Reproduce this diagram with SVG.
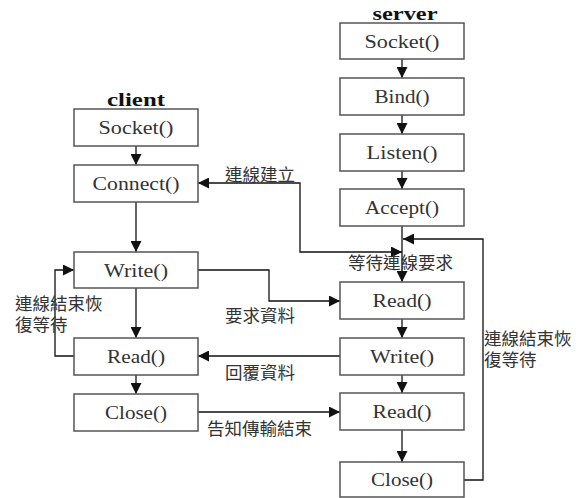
<svg xmlns="http://www.w3.org/2000/svg" width="578" height="498" viewBox="0 0 578 498">
<style>
.box{fill:#fff;stroke:#555;stroke-width:1.5}
.fn{font-family:"Liberation Serif",serif;font-size:19px;fill:#333;text-anchor:middle}
.hd{font-family:"Liberation Serif",serif;font-size:19px;font-weight:bold;fill:#111;text-anchor:middle}
.cj{font-family:"Liberation Sans","Noto Sans CJK TC",sans-serif;font-size:17.5px;fill:#333}
.ln{fill:none;stroke:#111;stroke-width:1.3}
</style>
<defs>
<marker id="ah" viewBox="0 0 10 10" refX="10" refY="5" markerWidth="11" markerHeight="11" markerUnits="userSpaceOnUse" orient="auto-start-reverse">
<path d="M0 0 L10 5 L0 10 Z" fill="#111"/>
</marker>
</defs>
<g id="connectors">
<path class="ln" d="M136 146 V165" marker-end="url(#ah)"/>
<path class="ln" d="M136 202 V252" marker-end="url(#ah)"/>
<path class="ln" d="M136 288 V338" marker-end="url(#ah)"/>
<path class="ln" d="M136 375 V394" marker-end="url(#ah)"/>
<path class="ln" d="M402 59 V78" marker-end="url(#ah)"/>
<path class="ln" d="M402 115 V134" marker-end="url(#ah)"/>
<path class="ln" d="M402 171 V189" marker-end="url(#ah)"/>
<path class="ln" d="M402 226 V282" marker-end="url(#ah)"/>
<path class="ln" d="M402 375 V393" marker-end="url(#ah)"/>
<path class="ln" d="M402 319 V338" marker-end="url(#ah)"/>
<path class="ln" d="M402 430 V462" marker-end="url(#ah)"/>
<path class="ln" d="M402 252 H300 V183 H198" marker-start="url(#ah)" marker-end="url(#ah)"/>
<path class="ln" d="M464 480 H483 V239 H403" marker-end="url(#ah)"/>
<path class="ln" d="M198 270 H269 V301 H340" marker-end="url(#ah)"/>
<path class="ln" d="M340 356 H198" marker-end="url(#ah)"/>
<path class="ln" d="M198 412 H340" marker-end="url(#ah)"/>
<path class="ln" d="M74 356 H55 V270 H74" marker-end="url(#ah)"/>
</g>
<g id="client-label"><text class="hd" x="136" y="106" textLength="58" lengthAdjust="spacingAndGlyphs">client</text></g>
<g id="server-label"><text class="hd" x="405" y="20" textLength="65" lengthAdjust="spacingAndGlyphs">server</text></g>
<g id="c-socket"><rect class="box" x="74" y="109" width="124" height="37"/><text class="fn" x="136" y="134" textLength="75" lengthAdjust="spacingAndGlyphs">Socket()</text></g>
<g id="c-connect"><rect class="box" x="74" y="165" width="124" height="37"/><text class="fn" x="136" y="190" textLength="87" lengthAdjust="spacingAndGlyphs">Connect()</text></g>
<g id="c-write"><rect class="box" x="74" y="252" width="124" height="36"/><text class="fn" x="136" y="277" textLength="64" lengthAdjust="spacingAndGlyphs">Write()</text></g>
<g id="c-read"><rect class="box" x="74" y="338" width="124" height="37"/><text class="fn" x="136" y="363" textLength="58" lengthAdjust="spacingAndGlyphs">Read()</text></g>
<g id="c-close"><rect class="box" x="74" y="394" width="124" height="37"/><text class="fn" x="136" y="419" textLength="62" lengthAdjust="spacingAndGlyphs">Close()</text></g>
<g id="s-socket"><rect class="box" x="340" y="23" width="124" height="36"/><text class="fn" x="402" y="48" textLength="75" lengthAdjust="spacingAndGlyphs">Socket()</text></g>
<g id="s-bind"><rect class="box" x="340" y="78" width="124" height="37"/><text class="fn" x="402" y="103" textLength="55" lengthAdjust="spacingAndGlyphs">Bind()</text></g>
<g id="s-listen"><rect class="box" x="340" y="134" width="124" height="37"/><text class="fn" x="402" y="159" textLength="71" lengthAdjust="spacingAndGlyphs">Listen()</text></g>
<g id="s-accept"><rect class="box" x="340" y="189" width="124" height="37"/><text class="fn" x="402" y="214" textLength="74" lengthAdjust="spacingAndGlyphs">Accept()</text></g>
<g id="s-read1"><rect class="box" x="340" y="282" width="124" height="37"/><text class="fn" x="402" y="307" textLength="59" lengthAdjust="spacingAndGlyphs">Read()</text></g>
<g id="s-write"><rect class="box" x="340" y="338" width="124" height="37"/><text class="fn" x="402" y="363" textLength="64" lengthAdjust="spacingAndGlyphs">Write()</text></g>
<g id="s-read2"><rect class="box" x="340" y="393" width="124" height="37"/><text class="fn" x="402" y="418" textLength="59" lengthAdjust="spacingAndGlyphs">Read()</text></g>
<g id="s-close"><rect class="box" x="340" y="462" width="124" height="35"/><text class="fn" x="402" y="486" textLength="62" lengthAdjust="spacingAndGlyphs">Close()</text></g>
<g id="labels">
<text class="cj" x="225" y="181">連線建立</text>
<text class="cj" x="348" y="269">等待連線要求</text>
<text class="cj" x="225" y="322">要求資料</text>
<text class="cj" x="225" y="379">回覆資料</text>
<text class="cj" x="207" y="435">告知傳輸結束</text>
<text class="cj" x="15" y="310">連線結束恢</text>
<text class="cj" x="15" y="331">復等待</text>
<text class="cj" x="484" y="345">連線結束恢</text>
<text class="cj" x="484" y="366">復等待</text>
</g>
</svg>
